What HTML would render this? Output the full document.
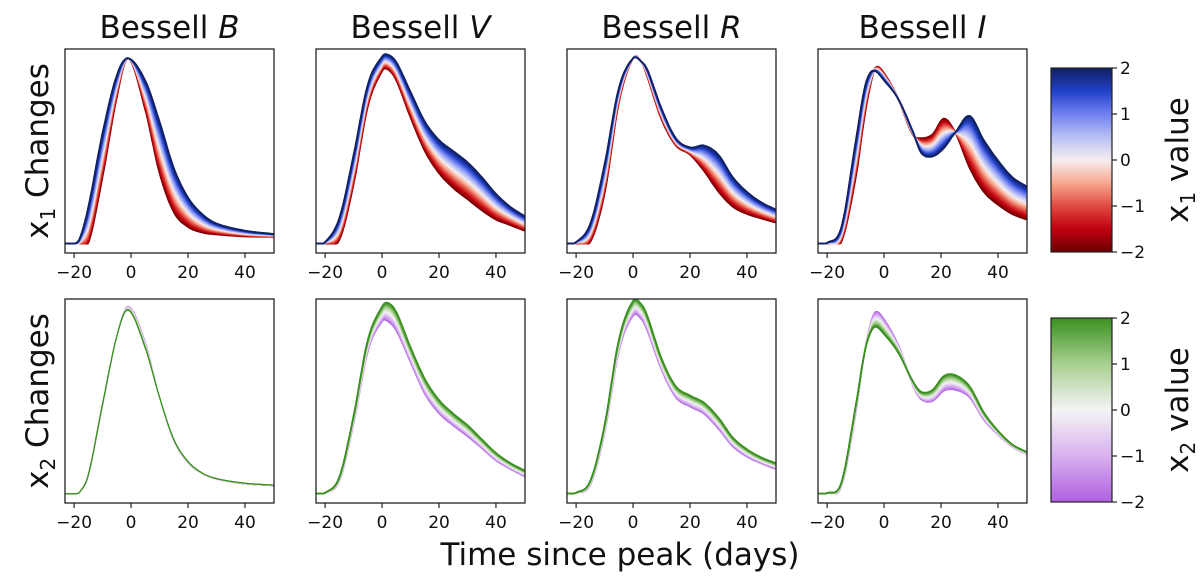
<!DOCTYPE html>
<html><head><meta charset="utf-8"><style>
html,body{margin:0;padding:0;background:#fff;}
svg{display:block;font-family:"DejaVu Sans","Liberation Sans",sans-serif;}
</style></head><body>
<svg id="fig" width="1200" height="585" viewBox="0 0 1200 585" xmlns="http://www.w3.org/2000/svg"></svg>
<script>
const xTicks=[-20,0,20,40];
const cbTicks=[2,1,0,-1,-2];
const bandNames=["B","V","R","I"];
const tB=[-23,-20,-18,-15,-10,-5,-1,5,10,15,20,25,30,40,50];
const cB=[0,0,0.01,0.1,0.48,0.85,1.0,0.8,0.52,0.29,0.17,0.11,0.08,0.055,0.045];
const d1B=[0,0,0.01,0.05,0.06,0.03,0,0.04,0.07,0.06,0.04,0.025,0.015,0.008,0.004];
const d2B=[0,0,0,0.002,0.003,0,-0.005,-0.008,0,0.002,0.002,0.001,0.001,0.001,0.001];
const tV=[-23,-20,-15,-10,-5,0,2,5,10,15,20,25,30,35,40,45,50];
const cV=[0,0.005,0.08,0.4,0.8,0.97,0.98,0.93,0.75,0.58,0.47,0.4,0.34,0.27,0.2,0.15,0.11];
const d1V=[0,0.002,0.03,0.04,0.03,0.02,0.02,0.025,0.035,0.04,0.045,0.05,0.05,0.045,0.035,0.025,0.02];
const d2V=[0,0,0.005,0.01,0.015,0.02,0.025,0.025,0.02,0.02,0.018,0.016,0.015,0.012,0.01,0.008,0.008];
const tR=[-23,-20,-15,-10,-5,0,3,5,10,15,20,25,30,35,40,45,50];
const cR=[0,0.005,0.06,0.35,0.8,1.0,0.98,0.92,0.7,0.55,0.5,0.46,0.38,0.28,0.22,0.18,0.15];
const d1R=[0,0.002,0.025,0.04,0.02,0,0,0.01,0.015,0.01,0.01,0.035,0.05,0.04,0.03,0.022,0.018];
const d2R=[0,0,0.005,0.01,0.015,0.02,0.02,0.02,0.015,0.015,0.015,0.015,0.015,0.012,0.01,0.008,0.008];
const tI=[-23,-20,-15,-10,-7,-5,-3,0,5,10,13,17,21,25,30,35,40,45,50];
const cI=[0,0.003,0.05,0.45,0.75,0.88,0.94,0.9,0.78,0.6,0.53,0.53,0.595,0.6,0.55,0.42,0.33,0.26,0.22];
const d1I=[0,0.001,0.02,0.05,0.04,0.02,-0.005,-0.01,0,0.005,-0.02,-0.03,-0.04,0,0.07,0.07,0.06,0.05,0.045];
const d2I=[0,0,0.005,0.01,0,-0.01,-0.02,-0.02,-0.01,0.005,0.01,0.015,0.02,0.02,0.015,0.01,0.005,0.003,0.003];

const NS="http://www.w3.org/2000/svg";
const svg=document.getElementById('fig');
function mk(tag,attrs,parent){const e=document.createElementNS(NS,tag);for(const k in attrs)e.setAttribute(k,attrs[k]);(parent||svg).appendChild(e);return e;}
const bands=[[tB,cB,d1B,d2B],[tV,cV,d1V,d2V],[tR,cR,d1R,d2R],[tI,cI,d1I,d2I]];
const PX=[65,316,567,818],PW=209,PY=[49,299],PH=204;
const XMIN=-23.2,XMAX=50.2,YMIN=-0.05,YMAX=1.05;
function interp(t,v,x){
  const n=t.length;if(x<=t[0])return v[0];if(x>=t[n-1])return v[n-1];
  let i=0;while(t[i+1]<x)i++;
  const h=t[i+1]-t[i],s=(x-t[i])/h;
  const m=k=>{if(k<=0)return (v[1]-v[0])/(t[1]-t[0]);if(k>=n-1)return (v[n-1]-v[n-2])/(t[n-1]-t[n-2]);return (v[k+1]-v[k-1])/(t[k+1]-t[k-1]);};
  const m0=m(i)*h,m1=m(i+1)*h,s2=s*s,s3=s2*s;
  return (2*s3-3*s2+1)*v[i]+(s3-2*s2+s)*m0+(-2*s3+3*s2)*v[i+1]+(s3-s2)*m1;
}
function lerpStops(stops,val){
  for(let i=0;i<stops.length-1;i++){const a=stops[i],b=stops[i+1];
    if(val<=b[0]){const f=(val-a[0])/(b[0]-a[0]);const ca=a[1],cb=b[1];
      return 'rgb('+[0,1,2].map(j=>Math.round(ca[j]+(cb[j]-ca[j])*f)).join(',')+')';}}
  const l=stops[stops.length-1][1];return 'rgb('+l.join(',')+')';
}
const rb=[[-2,[107,0,0]],[-1.5,[192,0,16]],[-1,[224,74,64]],[-0.5,[248,168,144]],[0,[245,238,238]],[0.5,[184,192,245]],[1,[112,128,240]],[1.5,[32,64,200]],[2,[16,32,96]]];
const gp=[[-2,[176,96,224]],[-1,[216,176,240]],[0,[244,244,244]],[1,[168,208,144]],[2,[58,144,32]]];
const defs=mk('defs',{});
for(let r=0;r<2;r++)for(let c=0;c<4;c++){
  const cp=mk('clipPath',{id:'cp'+r+c},defs);mk('rect',{x:PX[c],y:PY[r],width:PW,height:PH},cp);
}
function sx(c,t){return PX[c]+(t-XMIN)/(XMAX-XMIN)*PW;}
function sy(r,f){return PY[r]+PH-(f-YMIN)/(YMAX-YMIN)*PH;}
for(let r=0;r<2;r++){
  for(let c=0;c<4;c++){
    const [t,cen,d1,d2]=bands[c];const d=r===0?d1:d2;const stops=r===0?rb:gp;
    const g=mk('g',{'clip-path':'url(#cp'+r+c+')'});
    
    
    for(let k=0;k<=40;k++){
      const xv=-2+k*0.1;let p='';
      for(let tt=XMIN;tt<=XMAX+0.5;tt+=0.5){
        const f=Math.max(0,interp(t,cen,tt)+xv*interp(t,d,tt));
        p+=(p?'L':'M')+sx(c,tt).toFixed(1)+','+sy(r,f).toFixed(1);
      }
      const pa=mk('path',{d:p,fill:'none',stroke:lerpStops(stops,xv),'stroke-width':(r===1&&c===0)?1:1.6},g);
      
      
    }
    const fr=mk('rect',{x:PX[c],y:PY[r],width:PW,height:PH,fill:'none',stroke:'#222','stroke-width':1.3});
    
    
    xTicks.forEach(v=>{
      const x=sx(c,v);
      mk('line',{x1:x,x2:x,y1:PY[r]+PH,y2:PY[r]+PH+5,stroke:'#222','stroke-width':1.2});
      const tx=mk('text',{x:x,y:PY[r]+PH+25,'font-size':17,'text-anchor':'middle',fill:'#111'});
      tx.textContent=(v<0?'\u2212'+(-v):''+v);
      
      
    });
  }
}
bandNames.forEach((b,c)=>{
  const tx=mk('text',{x:PX[c]+PW/2,y:38,'font-size':31,'text-anchor':'middle',fill:'#111'});
  tx.innerHTML='Bessell <tspan font-style="italic">'+b+'</tspan>';
  
  
});
[['1',PY[0]],['2',PY[1]]].forEach(([n,y])=>{
  const tx=mk('text',{x:0,y:0,'font-size':31,'text-anchor':'middle',fill:'#111',transform:'translate(48,'+(y+PH/2)+') rotate(-90)'});
  tx.innerHTML='x<tspan font-size="20" dy="7">'+n+'</tspan><tspan dy="-7"> Changes</tspan>';
  
  
});
const xl=mk('text',{x:620,y:565,'font-size':31,'text-anchor':'middle',fill:'#111'});
xl.textContent='Time since peak (days)';


[[68,rb,'1'],[318,gp,'2']].forEach(([y0,stops,n],i)=>{
  const H=184,X=1051,W=61;
  const lg=mk('linearGradient',{id:'cbg'+i,x1:0,y1:1,x2:0,y2:0},defs);
  stops.forEach(s=>mk('stop',{offset:((s[0]+2)/4),'stop-color':'rgb('+s[1].join(',')+')'},lg));
  const rc=mk('rect',{x:X,y:y0,width:W,height:H,fill:'url(#cbg'+i+')',stroke:'#222','stroke-width':1.2});
  
  
  cbTicks.forEach(v=>{
    const y=y0+(2-v)/4*H;
    mk('line',{x1:X+W,x2:X+W+5,y1:y,y2:y,stroke:'#222','stroke-width':1.2});
    const tx=mk('text',{x:X+W+8,y:y+6,'font-size':17,fill:'#111'});
    tx.textContent=(v<0?'\u2212'+(-v):''+v);
    
    
  });
  const tx=mk('text',{x:0,y:0,'font-size':31,'text-anchor':'middle',fill:'#111',transform:'translate(1188,'+(y0+H/2)+') rotate(-90)'});
  tx.innerHTML='x<tspan font-size="20" dy="7">'+n+'</tspan><tspan dy="-7"> value</tspan>';
  
  
});
</script>
</body></html>
